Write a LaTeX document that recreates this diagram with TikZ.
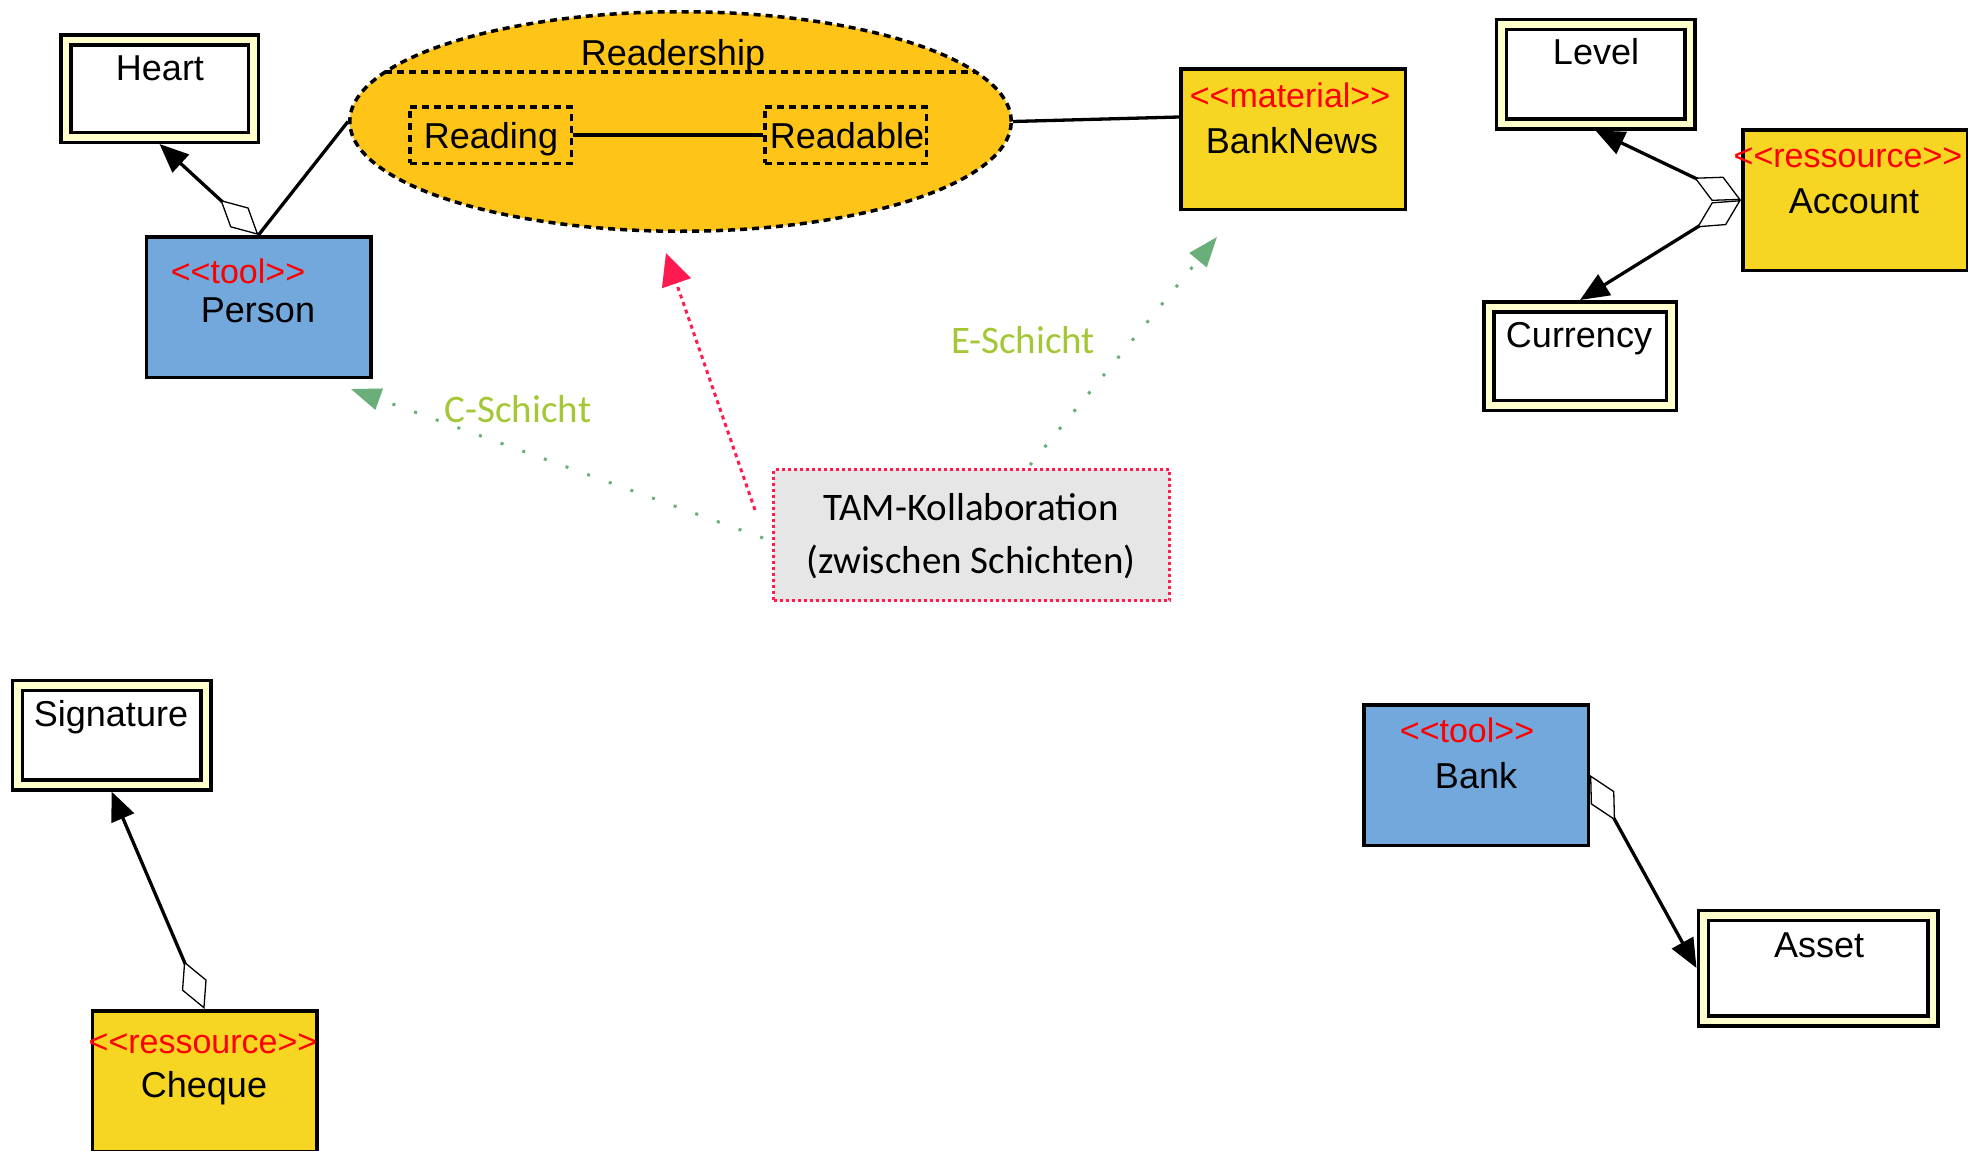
\documentclass[tikz,border=0pt]{standalone}
\usepackage{fontspec}
\setmainfont{Liberation Sans}
\newfontfamily\handfont{Carlito}
\usetikzlibrary{arrows.meta,shapes.geometric,calc}
\definecolor{cream}{HTML}{FFFFCC}
\definecolor{gold}{HTML}{F6D523}
\definecolor{orangeY}{HTML}{FEC418}
\definecolor{toolblue}{HTML}{72A8DC}
\definecolor{stereored}{HTML}{FF0000}
\definecolor{tamred}{HTML}{FF1A4F}
\definecolor{tamgreen}{HTML}{6AAF7A}
\definecolor{labgreen}{HTML}{A3C735}
\definecolor{tamgray}{HTML}{E6E6E6}
\newcommand{\llt}{<\kern0pt<}
\newcommand{\ggt}{>\kern0pt>}
\begin{document}
\begin{tikzpicture}[x=1pt,y=-1pt,
  box/.style={draw, line width=3.5pt, minimum width=224.5pt, minimum height=140.5pt, inner sep=0pt, outer sep=1.75pt},
  toolbox/.style={box, fill=toolblue},
  resbox/.style={box, fill=gold},
  dbox/.style={draw, line width=3.5pt, double=cream, double distance=6.5pt, fill=white, inner sep=0pt, outer sep=6.75pt},
  dashbox/.style={draw, line width=3.5pt, dash pattern=on 7pt off 5pt, inner sep=0pt},
  nametxt/.style={font=\fontsize{36}{43}\selectfont, anchor=base, inner sep=0pt},
  stereotxt/.style={font=\fontsize{34}{41}\selectfont, text=stereored, anchor=base, inner sep=0pt},
  handtxt/.style={font=\handfont\fontsize{39}{47}\selectfont, anchor=base, inner sep=0pt},
  conn/.style={line width=3.3pt},
  aggr/.style={line width=3.3pt, arrows={{Diamond[fill=white,length=52pt,width=27pt,line width=1.3pt]}-{Triangle[length=29pt,width=24pt]}}},
  greenarrow/.style={draw=tamgreen, line width=3pt, dash pattern=on 3pt off 20pt, arrows={-{Triangle[length=30pt,width=22pt,fill=tamgreen]}}},
  redarrow/.style={draw=tamred, line width=3pt, dash pattern=on 4pt off 4pt, arrows={-{Triangle[length=32pt,width=30pt,fill=tamred]}}}
]
\useasboundingbox (0,0) rectangle (1968,1151);

% Readership ellipse
\node[ellipse, draw, line width=3.5pt, dash pattern=on 7pt off 5pt, fill=orangeY,
      minimum width=661.5pt, minimum height=219.5pt, inner sep=0pt] (rs) at (680.5,121.5) {};
\draw[line width=3.5pt, dash pattern=on 7pt off 5pt] (385.3,72) -- (975.7,72);
\node[nametxt] (rstxt) at (673,65) {Readership};
\node[dashbox, minimum width=161.5pt, minimum height=56.5pt] (rdg) at (490.5,135) {};
\node[dashbox, minimum width=161.5pt, minimum height=56.5pt] (rda) at (845.5,135) {};
\node[nametxt] (rdgtxt) at (491,148) {Reading};
\node[nametxt] (rdatxt) at (847,148) {Readable};
\draw[conn] (rdg.east) -- (rda.west);

% single boxes
\node[toolbox] (person) at (258.5,307) {};
\node[stereotxt] (persons) at (238,283) {\llt tool\ggt};
\node[nametxt] (personn) at (258,322) {Person};

\node[resbox] (bn) at (1293,139) {};
\node[stereotxt] (bns) at (1290,107) {\llt material\ggt};
\node[nametxt] (bnn) at (1292,153) {BankNews};

\node[resbox] (acc) at (1855,200) {};
\node[stereotxt] (accs) at (1848,167) {\llt ressource\ggt};
\node[nametxt] (accn) at (1854,213) {Account};

\node[resbox] (chq) at (204.5,1081) {};
\node[stereotxt] (chqs) at (203,1053) {\llt ressource\ggt};
\node[nametxt] (chqn) at (204,1097) {Cheque};

\node[toolbox] (bank) at (1476,775) {};
\node[stereotxt] (banks) at (1467,742) {\llt tool\ggt};
\node[nametxt] (bankn) at (1476,788) {Bank};

% double boxes
\node[dbox, minimum width=187.5pt, minimum height=97.5pt] (heart) at (159.5,88.5) {};
\node[nametxt] (hearttxt) at (160,80) {Heart};
\node[dbox, minimum width=188.5pt, minimum height=99.5pt] (level) at (1595.5,74) {};
\node[nametxt] (leveltxt) at (1596,64) {Level};
\node[dbox, minimum width=182.5pt, minimum height=98.5pt] (cur) at (1580,356) {};
\node[nametxt] (curtxt) at (1579,347) {Currency};
\node[dbox, minimum width=188.5pt, minimum height=99.5pt] (sig) at (111.5,735) {};
\node[nametxt] (sigtxt) at (111,726) {Signature};
\node[dbox, minimum width=229.5pt, minimum height=105.5pt] (asset) at (1818,968) {};
\node[nametxt] (assettxt) at (1819,957) {Asset};

% solid connectors
\draw[conn] (person.north) -- (rs.west);
\draw[conn] (rs.east) -- ([yshift=22pt]bn.west);

% aggregations
\draw[aggr] (person.north) -- (heart.south);
\draw[aggr] (acc.west) -- (level.south);
\draw[aggr] (acc.west) -- (cur.north);
\draw[aggr] (chq.north) -- (sig.south);
\draw[aggr] (bank.east) -- (asset.west);

% TAM note
\node[draw=tamred, fill=tamgray, line width=3pt, dash pattern=on 3pt off 3pt,
      minimum width=396pt, minimum height=131pt, inner sep=0pt, outer sep=0pt] (tam) at (971.5,535) {};
\node[handtxt] (tam1) at (971,520) {TAM-Kollaboration};
\node[handtxt] (tam2) at (971,573) {(zwischen Schichten)};

\coordinate (rS) at ([shift={(-18.5pt,25pt)}]tam.west);
\coordinate (rE) at ([shift={(-14.5pt,-20pt)}]rs.south);
\coordinate (cS) at ([shift={(-10.5pt,-3pt)}]tam.west);
\coordinate (cE) at ([shift={(-21.5pt,-10pt)}]person.south east);
\coordinate (eS) at ([shift={(58.5pt,4.5pt)}]tam.north);
\coordinate (eE) at ([shift={(-76pt,-26pt)}]bn.south);

\draw[redarrow] (rS) -- (rE);
\draw[greenarrow] (cS) -- (cE);
\draw[greenarrow] (eS) -- (eE);

\node[handtxt, text=labgreen] (clab) at (518,422) {C-Schicht};
\node[handtxt, text=labgreen] (elab) at (1023,353) {E-Schicht};
\end{tikzpicture}
\end{document}
